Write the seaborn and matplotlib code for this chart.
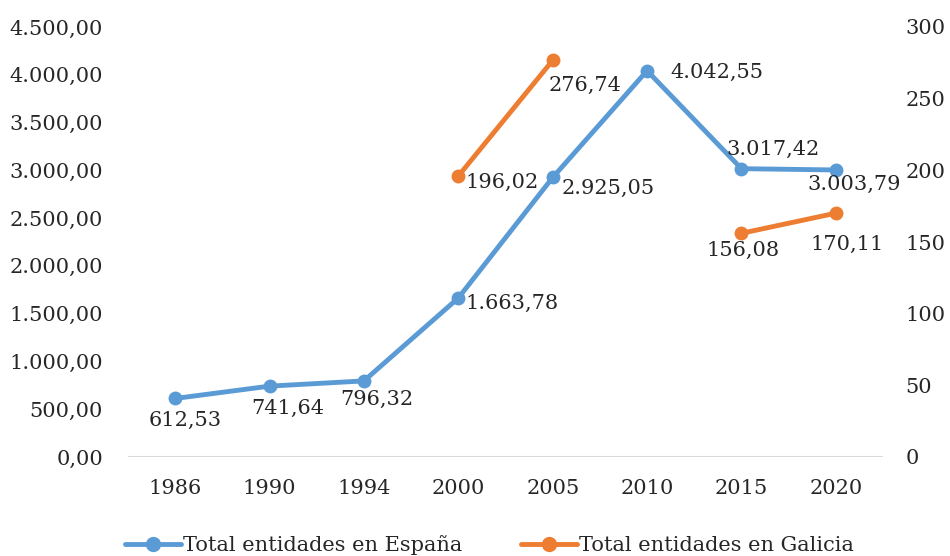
import numpy as np
import pandas as pd
import seaborn as sns
import matplotlib.pyplot as plt
from matplotlib.ticker import FuncFormatter
from matplotlib.lines import Line2D

# DONNEES
annees = ["1986", "1990", "1994", "2000", "2005", "2010", "2015", "2020"]
espana = [612.53, 741.64, 796.32, 1663.78, 2925.05, 4042.55, 3017.42, 3003.79]
galicia = [np.nan, np.nan, np.nan, 196.02, 276.74, np.nan, 156.08, 170.11]

# decalage des etiquettes (pixels) et alignement
pos_espana = [(10, -22, "center"), (18, -22, "center"), (13, -18, "center"), (7, -5, "left"),
              (9, -11, "left"), (23, -2, "left"), (32, 19, "center"), (18, -14, "center")]
pos_galicia = [None, None, None, (7, -6, "left"), (-4, -25, "left"), None,
               (2, -17, "center"), (11, -31, "center")]

bleu = "#5B9BD5"
orange = "#ED7D31"

def fmt_es(v, dec=2):
    s = f"{v:,.{dec}f}"
    return s.replace(",", "X").replace(".", ",").replace("X", ".")

x = np.arange(len(annees))
df_es = pd.DataFrame({"x": x, "val": espana})
df_ga = pd.DataFrame({"x": x, "val": galicia})
# tramos separes par les valeurs manquantes
df_ga["tramo"] = df_ga["val"].isna().cumsum()
df_ga = df_ga.dropna()

sns.set_style("white")
plt.rcParams["font.family"] = ["DejaVu Serif"]
plt.rcParams["font.size"] = 15

fig = plt.figure(figsize=(9.5, 5.56), dpi=100)
ax = fig.add_axes([128 / 950, 1 - 457 / 556, 755 / 950, 430 / 556])
ax2 = ax.twinx()

sns.lineplot(data=df_es, x="x", y="val", ax=ax, color=bleu, linewidth=3.5,
             marker="o", markersize=10, markeredgewidth=0)
sns.lineplot(data=df_ga, x="x", y="val", units="tramo", estimator=None, ax=ax2,
             color=orange, linewidth=3.5, marker="o", markersize=10, markeredgewidth=0)

ax.set_xlim(-0.5, len(annees) - 0.5)
ax.set_ylim(0, 4500)
ax2.set_ylim(0, 300)
ax.set_yticks(np.arange(0, 4501, 500))
ax2.set_yticks(np.arange(0, 301, 50))
ax.yaxis.set_major_formatter(FuncFormatter(lambda v, p: fmt_es(v)))
ax.set_xticks(x)
ax.set_xticklabels(annees)
ax.set_xlabel("")
ax.set_ylabel("")
ax2.set_ylabel("")
ax.tick_params(axis="x", length=0, pad=16)
ax.tick_params(axis="y", length=0, pad=18)
ax2.tick_params(axis="y", length=0, pad=16)
for a in (ax, ax2):
    for s in a.spines.values():
        s.set_visible(False)
ax.axhline(0, color="#D9D9D9", linewidth=1.5, zorder=0)

for i, v in enumerate(espana):
    dx, dy, ha = pos_espana[i]
    ax.annotate(fmt_es(v), (x[i], v), xytext=(dx, dy), textcoords="offset pixels",
                ha=ha, va="center")
for i, v in enumerate(galicia):
    if np.isnan(v):
        continue
    dx, dy, ha = pos_galicia[i]
    ax2.annotate(fmt_es(v), (x[i], v), xytext=(dx, dy), textcoords="offset pixels",
                 ha=ha, va="center")

handles = [Line2D([], [], color=bleu, linewidth=3.5, marker="o", markersize=10),
           Line2D([], [], color=orange, linewidth=3.5, marker="o", markersize=10)]
fig.legend(handles, ["Total entidades en España", "Total entidades en Galicia"],
           loc="center", bbox_to_anchor=(0.515, 1 - 545 / 556), ncol=2, frameon=False,
           handlelength=2.7, handletextpad=0.1, columnspacing=2.8)

fig.savefig("out.png", dpi=100)
